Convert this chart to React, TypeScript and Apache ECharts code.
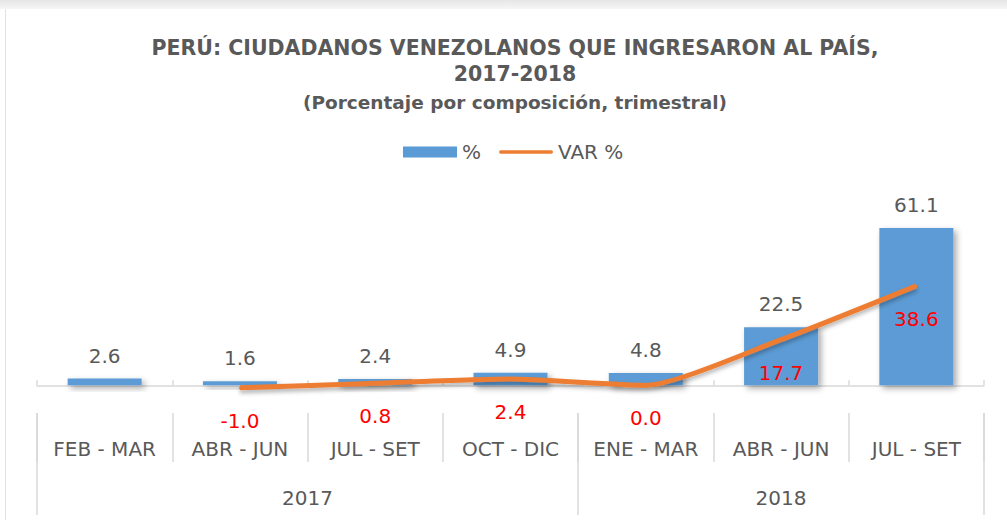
import React, { useEffect, useRef } from 'react';
import * as echarts from 'echarts';

const categories = ['FEB - MAR', 'ABR - JUN', 'JUL - SET', 'OCT - DIC', 'ENE - MAR', 'ABR - JUN', 'JUL - SET'];
const pctValues = [2.6, 1.6, 2.4, 4.9, 4.8, 22.5, 61.1];
const varValues: (number | null)[] = [null, -1.0, 0.8, 2.4, 0.0, 17.7, 38.6];
const years = ['2017', '2018'];
const yearSpans = [4, 3];

const yearTicks: number[] = [0];
const yearLabelPos: number[] = [];
yearSpans.forEach((s) => {
  const start = yearTicks[yearTicks.length - 1];
  yearLabelPos.push(start + s / 2);
  yearTicks.push(start + s);
});

const gray = '#595959';
const font = 'DejaVu Sans';
const sep = '#d9d9d9';

export default function App() {
  const ref = useRef<HTMLDivElement>(null);
  useEffect(() => {
    document.body.style.margin = '0';
    const chart = echarts.init(ref.current!, null, { renderer: 'svg' });
    chart.setOption({
      animation: false,
      title: {
        text: 'PERÚ: CIUDADANOS VENEZOLANOS QUE INGRESARON AL PAÍS,\n2017-2018',
        subtext: '(Porcentaje por composición, trimestral)',
        left: 510,
        textAlign: 'center',
        top: 30,
        padding: 5,
        itemGap: 4,
        textStyle: { fontFamily: font, fontWeight: 'bold', fontSize: 20.5, lineHeight: 26, color: gray },
        subtextStyle: { fontFamily: font, fontWeight: 'bold', fontSize: 18.5, lineHeight: 22, color: gray },
      },
      legend: {
        top: 142,
        left: 403,
        padding: 0,
        itemWidth: 54,
        itemHeight: 11,
        itemGap: 18,
        textStyle: { fontFamily: font, fontSize: 20, color: gray },
        data: [
          { name: '%', icon: 'rect' },
          { name: 'VAR %', icon: 'path://M2,0 H58 A2,2 0 0 1 58,4 H2 A2,2 0 0 1 2,0 Z' },
        ],
      },
      grid: { left: 37, right: 23, top: 205, height: 206, containLabel: false },
      yAxis: { type: 'value', min: -10, max: 70, show: false },
      xAxis: [
        {
          type: 'category',
          data: categories,
          axisLine: { lineStyle: { color: sep, width: 1.5 } },
          axisTick: { show: true, inside: true, length: 5, interval: 0, lineStyle: { color: sep, width: 1.5 } },
          axisLabel: { show: false },
        },
        {
          type: 'category',
          data: categories,
          position: 'bottom',
          offset: 2,
          axisLine: { show: false, onZero: false },
          axisTick: { show: true, length: 49, interval: 0, lineStyle: { color: sep, width: 1.5 } },
          axisLabel: { interval: 0, margin: 26, fontFamily: font, fontSize: 20, color: gray },
        },
        {
          type: 'value',
          min: 0,
          max: 7,
          position: 'bottom',
          offset: 2,
          splitLine: { show: false },
          axisLine: { show: false, onZero: false },
          axisTick: { show: true, length: 102, customValues: yearTicks, lineStyle: { color: sep, width: 1.5 } },
          axisLabel: {
            customValues: yearLabelPos,
            margin: 75,
            fontFamily: font,
            fontSize: 20,
            color: gray,
            formatter: (v: number) => {
              const i = yearLabelPos.indexOf(v);
              return i >= 0 ? years[i] : '';
            },
          },
        },
      ],
      series: [
        {
          name: '%',
          type: 'bar',
          data: pctValues,
          barWidth: 74,
          itemStyle: {
            color: '#5B9BD5',
            shadowColor: 'rgba(0,0,0,0.35)',
            shadowBlur: 6,
            shadowOffsetX: 3,
            shadowOffsetY: 3,
          },
          label: {
            show: true,
            position: 'top',
            distance: 13,
            fontFamily: font,
            fontSize: 20,
            color: gray,
            formatter: (p: any) => Number(p.value).toFixed(1),
          },
        },
        {
          name: 'VAR %',
          type: 'line',
          data: varValues,
          smooth: 0.2,
          symbol: 'circle',
          symbolSize: 2,
          itemStyle: { color: '#ED7D31' },
          lineStyle: {
            color: '#ED7D31',
            width: 5,
            shadowColor: 'rgba(0,0,0,0.3)',
            shadowBlur: 4,
            shadowOffsetY: 3,
          },
          label: {
            show: true,
            position: 'bottom',
            distance: 22,
            fontFamily: font,
            fontSize: 20,
            color: '#FF0000',
            formatter: (p: any) => Number(p.value).toFixed(1),
          },
          z: 3,
        },
      ],
    });
    return () => chart.dispose();
  }, []);
  return (
    <div style={{ position: 'relative', width: 1007, height: 520, background: '#fff', overflow: 'hidden' }}>
      <div style={{ position: 'absolute', left: 0, top: 0, width: 1007, height: 9, background: 'linear-gradient(#e6e6e6, #f6f6f6)' }} />
      <div style={{ position: 'absolute', left: 5, top: 9, width: 1, height: 511, background: '#e3e3e3' }} />
      <div ref={ref} style={{ position: 'absolute', left: 0, top: 0, width: 1007, height: 520 }} />
    </div>
  );
}
